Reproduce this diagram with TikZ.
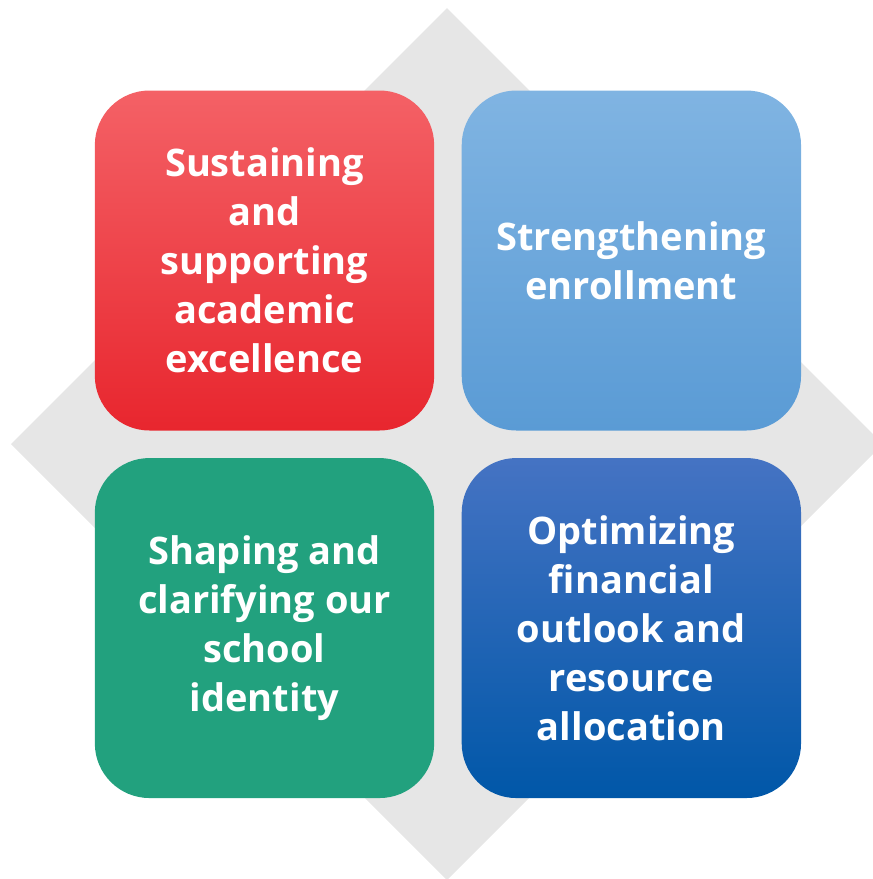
\documentclass[tikz,border=0pt]{standalone}
\usepackage{fontspec}
\setmainfont{Open Sans}
\usetikzlibrary{positioning}

\definecolor{diamondgray}{HTML}{E6E6E6}
\definecolor{redtop}{HTML}{F46166}
\definecolor{redbot}{HTML}{E8262E}
\definecolor{skytop}{HTML}{80B4E2}
\definecolor{skybot}{HTML}{5A9BD5}
\definecolor{greenbox}{HTML}{22A17E}
\definecolor{navytop}{HTML}{4573C3}
\definecolor{navybot}{HTML}{0057A8}

\tikzset{
  goalbox/.style={rectangle, rounded corners=41pt, minimum width=254.5pt,
    minimum height=255pt, inner sep=0pt, align=center, text=white,
    font=\fontsize{28.5}{36.8}\selectfont\bfseries},
}

\begin{document}
\begin{tikzpicture}[x=0.75pt,y=0.75pt,yscale=-1,xscale=1]
\useasboundingbox (0,0) rectangle (873,879);
\clip (0,0) rectangle (873,879);
% Background diamond
\fill[diamondgray] (447,8) -- (883,444) -- (447,880) -- (11,444) -- cycle;
% Text Node
\node[goalbox, top color=redtop, bottom color=redbot] (academic) at (264.5,260.5)
  {Sustaining\\and\\supporting\\academic\\excellence};
% Text Node
\node[goalbox, top color=skytop, bottom color=skybot, right=20.25pt of academic] (enrollment)
  {Strengthening\\enrollment};
% Text Node
\node[goalbox, fill=greenbox, below=20.25pt of academic] (identity)
  {Shaping and\\clarifying our\\school\\identity};
% Text Node
\node[goalbox, top color=navytop, bottom color=navybot, below=20.25pt of enrollment] (finance)
  {Optimizing\\financial\\outlook and\\resource\\allocation};
\end{tikzpicture}
\end{document}
